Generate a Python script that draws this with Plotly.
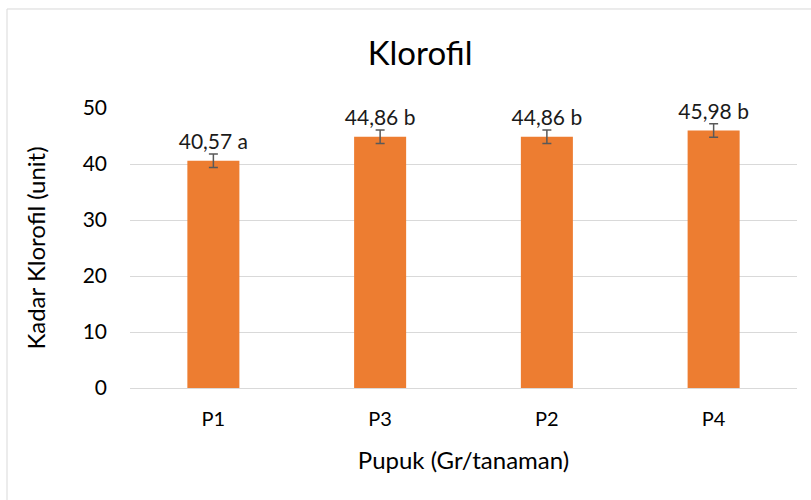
import plotly.graph_objects as go

categories = ["P1", "P3", "P2", "P4"]
values = [40.57, 44.86, 44.86, 45.98]
errors = [1.2, 1.2, 1.2, 1.2]
letters = ["a", "b", "b", "b"]
labels = [f"{v:.2f}".replace(".", ",") + " " + l for v, l in zip(values, letters)]

FONT = "Lato, Open Sans, sans-serif"

fig = go.Figure()
fig.add_trace(go.Bar(
    x=categories, y=values,
    marker=dict(color="#ED7D31", line=dict(width=0)),
    error_y=dict(type="data", array=errors, visible=True, color="#595959", thickness=1.5, width=4.5),
    hoverinfo="skip",
))
fig.add_trace(go.Scatter(
    x=categories, y=[v + e for v, e in zip(values, errors)],
    mode="text", text=labels, textposition="top center",
    textfont=dict(family=FONT, size=21, color="#1a1a1a"),
    cliponaxis=False,
    hoverinfo="skip",
))

fig.update_layout(
    width=811, height=500,
    margin=dict(l=130, r=14, t=108, b=112),
    paper_bgcolor="white", plot_bgcolor="white",
    showlegend=False,
    bargap=0.688,
    title=dict(text="Klorofil", x=0.518, xanchor="center", xref="container", y=0.894, yanchor="middle",
               font=dict(family=FONT, size=33, color="#000000")),
    xaxis=dict(
        title=dict(text="Pupuk (Gr/tanaman)", font=dict(family=FONT, size=24, color="#000000"), standoff=23),
        tickfont=dict(family=FONT, size=20, color="#000000"),
        showgrid=False, showline=False, zeroline=False, ticks="", ticklabelstandoff=17,
        automargin=False,
    ),
    yaxis=dict(
        title=dict(text="Kadar Klorofil (unit)", font=dict(family=FONT, size=24, color="#000000"), standoff=30),
        tickfont=dict(family=FONT, size=21, color="#000000"),
        range=[0, 50], dtick=10, tick0=0,
        showgrid=True, gridcolor="#D9D9D9", gridwidth=1,
        zeroline=True, zerolinecolor="#D9D9D9", zerolinewidth=1,
        showline=False, ticks="", ticklabelstandoff=22,
        automargin=False,
    ),
    shapes=[dict(type="rect", xref="paper", yref="paper", x0=-0.1844, x1=1.1, y0=-0.6, y1=1.3536,
                 line=dict(color="#D9D9D9", width=1), fillcolor="rgba(0,0,0,0)", layer="below")],
)

fig.write_html("out.html", config={"displayModeBar": False},
               post_script="document.body.style.margin='0';")
